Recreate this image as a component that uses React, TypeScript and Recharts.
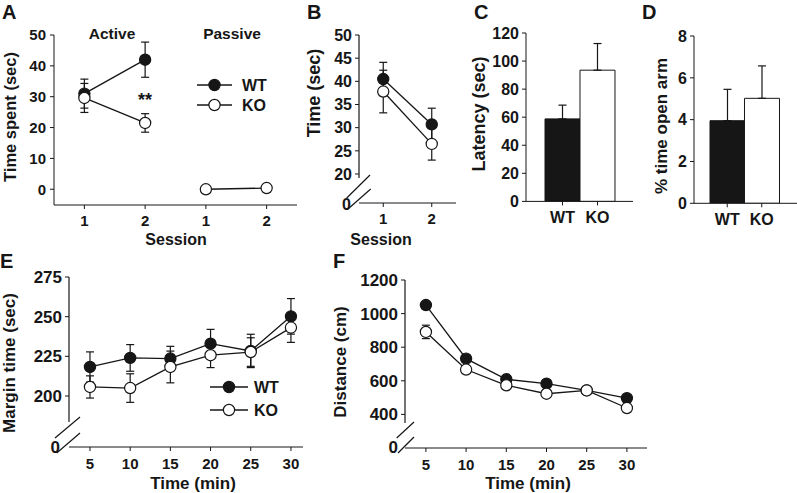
import React from 'react';
import { LineChart, Line, XAxis, YAxis, ErrorBar, BarChart, Bar, Cell } from 'recharts';

const FONT = '"Liberation Sans", Arial, Helvetica, sans-serif';
const INK = '#161616';

// A: time spent per session (active / passive)
const activeX = [1, 2];
const passiveX = [3, 4];
const wtActive = [31, 42];
const wtActiveErr = [4.7, 5.7];
const koActive = [29.6, 21.5];
const koActiveErr = [4.7, 3];
const koPassive = [0, 0.4];

// B: time per session
const bSession = [1, 2];
const bWt = [40.5, 30.7];
const bWtErr = [3.6, 3.5];
const bKo = [37.8, 26.5];
const bKoErr = [4.6, 3.5];

// C / D: bar groups
const groups = ['WT', 'KO'];
const barFill = [INK, '#ffffff'];
const latency = [58.8, 93.5];
const latencyErr = [9.8, 19];
const openArm = [3.95, 5.02];
const openArmErr = [1.5, 1.55];

// E / F: time course
const minutes = [5, 10, 15, 20, 25, 30];
const eWt = [218.3, 224, 223.6, 233, 228.4, 250.2];
const eWtErr = [9.5, 8.4, 7.7, 9, 10.5, 11.2];
const eKo = [205.7, 205, 218.3, 225.7, 227.7, 243.1];
const eKoErr = [7, 9, 10, 7.8, 9, 9.3];
const fWt = [1051, 732, 609, 583, 543, 497];
const fWtErr = [20, 20, 15, 15, 15, 15];
const fKo = [891, 667, 573, 523, 543, 438];
const fKoErr = [40, 20, 15, 15, 15, 15];

const rows = (xs: number[], ys: number[], es?: number[]) =>
  xs.map((x, i) => ({ x, y: ys[i], e: es ? es[i] : 0 }));

type Box = { x0: number; x1: number; y0: number; y1: number };

// place a chart so that its plot area lands on the given page box
function frame(b: Box, yw: number, xh: number, mr = 4) {
  const mt = 12;
  return {
    style: { position: 'absolute' as const, left: b.x0 - yw, top: b.y0 - mt },
    width: yw + (b.x1 - b.x0) + mr,
    height: mt + (b.y1 - b.y0) + xh,
    margin: { top: mt, right: mr, left: 0, bottom: 0 },
  };
}

const tickStyle = (size: number) => ({ fill: INK, fontSize: size, fontWeight: 700, fontFamily: FONT });

function Series({ data, fill, errW = 4 }: { data: any[]; fill: string; errW?: number }) {
  return (
    <Line
      data={data}
      dataKey="y"
      type="linear"
      stroke={INK}
      strokeWidth={1.3}
      dot={{ r: 5.6, fill, stroke: INK, strokeWidth: 1.2 }}
      activeDot={false}
      isAnimationActive={false}
    >
      <ErrorBar dataKey="e" width={errW} stroke={INK} strokeWidth={1.2} direction="y" />
    </Line>
  );
}

function LinePanel(props: {
  box: Box;
  yw: number;
  xh: number;
  xDomain: [number, number];
  yDomain: [number, number];
  xTicks: number[];
  yTicks: number[];
  xFont: number;
  yFont: number;
  xGap: number;
  yGap: number;
  broken?: boolean;
  xFmt?: (v: number) => string;
  children: React.ReactNode;
}) {
  const f = frame(props.box, props.yw, props.xh);
  return (
    <div style={f.style}>
      <LineChart width={f.width} height={f.height} margin={f.margin}>
        <XAxis
          type="number"
          dataKey="x"
          domain={props.xDomain}
          ticks={props.xTicks}
          interval={0}
          allowDataOverflow
          height={props.xh}
          stroke={INK}
          tickSize={4}
          tickMargin={props.xGap}
          tick={tickStyle(props.xFont)}
          tickFormatter={props.xFmt}
        />
        <YAxis
          type="number"
          domain={props.yDomain}
          ticks={props.yTicks}
          interval={0}
          allowDataOverflow
          width={props.yw}
          stroke={INK}
          axisLine={!props.broken}
          tickSize={4}
          tickMargin={props.yGap}
          tick={tickStyle(props.yFont)}
        />
        {props.children}
      </LineChart>
    </div>
  );
}

function BarPanel(props: {
  box: Box;
  values: number[];
  errs: number[];
  yDomain: [number, number];
  yTicks: number[];
  pad: { left: number; right: number };
  yFont: number;
  xFont: number;
  mr?: number;
}) {
  const f = frame(props.box, 40, 40, props.mr ?? 4);
  const data = groups.map((g, i) => ({ g, v: props.values[i], e: [0, props.errs[i]] }));
  return (
    <div style={f.style}>
      <BarChart width={f.width} height={f.height} margin={f.margin} data={data} barCategoryGap={0}>
        <XAxis
          dataKey="g"
          padding={props.pad}
          interval={0}
          height={40}
          stroke={INK}
          tickSize={4}
          tickMargin={6}
          tick={tickStyle(props.xFont)}
        />
        <YAxis
          domain={props.yDomain}
          ticks={props.yTicks}
          interval={0}
          allowDataOverflow
          width={40}
          stroke={INK}
          tickSize={4}
          tickMargin={3}
          tick={tickStyle(props.yFont)}
        />
        <Bar dataKey="v" stroke={INK} strokeWidth={1} isAnimationActive={false}>
          {data.map((d, i) => (
            <Cell key={d.g} fill={barFill[i]} />
          ))}
          <ErrorBar dataKey="e" width={4} stroke={INK} strokeWidth={1.2} direction="y" />
        </Bar>
      </BarChart>
    </div>
  );
}

function T({ x, y, size = 16, anchor = 'middle', children }: any) {
  return (
    <text x={x} y={y} fontSize={size} fontWeight={700} fontFamily={FONT} fill={INK} textAnchor={anchor}>
      {children}
    </text>
  );
}

function VT({ x, y, size = 16, children }: any) {
  return (
    <text
      transform={`translate(${x},${y}) rotate(-90)`}
      fontSize={size}
      fontWeight={700}
      fontFamily={FONT}
      fill={INK}
      textAnchor="middle"
    >
      {children}
    </text>
  );
}

function Key({ x, y, len, gap, fill, label }: any) {
  return (
    <g>
      <line x1={x} x2={x + len} y1={y} y2={y} stroke={INK} strokeWidth={1.3} />
      <circle cx={x + len / 2} cy={y} r={5.6} fill={fill} stroke={INK} strokeWidth={1.2} />
      <T x={x + len + gap} y={y + 5.7} size={16} anchor="start">
        {label}
      </T>
    </g>
  );
}

function Break({ ax, top, stop, s1, s2, zx, zy, size }: any) {
  return (
    <g stroke={INK} strokeWidth={1.2}>
      <line x1={ax} x2={ax} y1={top} y2={stop} />
      <line x1={s1[0]} y1={s1[1]} x2={s1[2]} y2={s1[3]} />
      <line x1={s2[0]} y1={s2[1]} x2={s2[2]} y2={s2[3]} />
      <g stroke="none">
        <T x={zx} y={zy} size={size} anchor="end">
          0
        </T>
      </g>
    </g>
  );
}

function Overlay() {
  return (
    <svg width={797} height={493} style={{ position: 'absolute', left: 0, top: 0, pointerEvents: 'none' }}>
      {/* panel letters */}
      <T x={2} y={19} size={20} anchor="start">A</T>
      <T x={307} y={19} size={20} anchor="start">B</T>
      <T x={474} y={19} size={20} anchor="start">C</T>
      <T x={642} y={19} size={20} anchor="start">D</T>
      <T x={0} y={268} size={20} anchor="start">E</T>
      <T x={333} y={268} size={20} anchor="start">F</T>

      {/* A */}
      <T x={112} y={39} size={15.5}>Active</T>
      <T x={232} y={39} size={15.5}>Passive</T>
      <T x={145} y={106} size={18}>**</T>
      <VT x={16} y={117} size={16.5}>Time spent (sec)</VT>
      <T x={176} y={245} size={16}>Session</T>
      <Key x={197} y={85} len={35} gap={10} fill={INK} label="WT" />
      <Key x={197} y={105} len={35} gap={10} fill="#ffffff" label="KO" />

      {/* B */}
      <VT x={320} y={93} size={18}>Time (sec)</VT>
      <T x={381} y={245} size={16}>Session</T>
      <Break ax={359} top={35} stop={178} s1={[346.7, 198, 370, 175]} s2={[348, 209, 370.7, 189]} zx={351} zy={210} size={16} />

      {/* C, D */}
      <VT x={485} y={114} size={18}>Latency (sec)</VT>
      <VT x={667} y={126} size={17}>% time open arm</VT>

      {/* E */}
      <VT x={15} y={363} size={17}>Margin time (sec)</VT>
      <T x={193} y={489} size={17}>Time (min)</T>
      <Key x={210} y={387} len={38} gap={6} fill={INK} label="WT" />
      <Key x={210} y={410} len={38} gap={6} fill="#ffffff" label="KO" />
      <Break ax={69} top={277} stop={422} s1={[55, 438, 80, 417]} s2={[56.7, 453, 80, 433]} zx={60} zy={453} size={17} />

      {/* F */}
      <VT x={346} y={362} size={17}>Distance (cm)</VT>
      <T x={528} y={489} size={17}>Time (min)</T>
      <Break ax={405} top={280} stop={423} s1={[396.7, 438, 414, 422]} s2={[398, 453, 414, 437]} zx={398} zy={453} size={17} />
    </svg>
  );
}

export default function App() {
  return (
    <div
      style={{
        position: 'absolute',
        left: 0,
        top: 0,
        width: 797,
        height: 493,
        overflow: 'hidden',
        background: '#fff',
      }}
    >
      {/* A */}
      <LinePanel
        box={{ x0: 54, x1: 297, y0: 35, y1: 205 }}
        yw={54}
        xh={40}
        xDomain={[0.5, 4.5]}
        yDomain={[-5.1, 50]}
        xTicks={[1, 2, 3, 4]}
        yTicks={[0, 10, 20, 30, 40, 50]}
        xFont={15}
        yFont={15}
        xGap={6}
        yGap={4}
        xFmt={(v) => String(v > 2 ? v - 2 : v)}
      >
        <Series data={rows(activeX, wtActive, wtActiveErr)} fill={INK} />
        <Series data={rows(activeX, koActive, koActiveErr)} fill="#ffffff" />
        <Series data={rows(passiveX, koPassive)} fill="#ffffff" />
      </LinePanel>

      {/* B */}
      <LinePanel
        box={{ x0: 359, x1: 456, y0: 35, y1: 203 }}
        yw={40}
        xh={40}
        xDomain={[0.5, 2.5]}
        yDomain={[13.74, 50]}
        xTicks={bSession}
        yTicks={[20, 25, 30, 35, 40, 45, 50]}
        xFont={15}
        yFont={16}
        xGap={6}
        yGap={3}
        broken
      >
        <Series data={rows(bSession, bWt, bWtErr)} fill={INK} />
        <Series data={rows(bSession, bKo, bKoErr)} fill="#ffffff" />
      </LinePanel>

      {/* C */}
      <BarPanel
        box={{ x0: 526, x1: 633, y0: 33.3, y1: 201.7 }}
        values={latency}
        errs={latencyErr}
        yDomain={[0, 120]}
        yTicks={[0, 20, 40, 60, 80, 100, 120]}
        pad={{ left: 19, right: 18 }}
        yFont={16}
        xFont={16}
      />

      {/* D */}
      <BarPanel
        box={{ x0: 694, x1: 797, y0: 36, y1: 203.3 }}
        values={openArm}
        errs={openArmErr}
        yDomain={[0, 8]}
        yTicks={[0, 2, 4, 6, 8]}
        pad={{ left: 16, right: 18 }}
        yFont={16}
        xFont={16}
        mr={0}
      />

      {/* E */}
      <LinePanel
        box={{ x0: 69, x1: 303, y0: 277, y1: 447 }}
        yw={50}
        xh={40}
        xDomain={[2.39, 31.5]}
        yDomain={[167.86, 275]}
        xTicks={minutes}
        yTicks={[200, 225, 250, 275]}
        xFont={15}
        yFont={17}
        xGap={7}
        yGap={3}
        broken
      >
        <Series data={rows(minutes, eWt, eWtErr)} fill={INK} />
        <Series data={rows(minutes, eKo, eKoErr)} fill="#ffffff" />
      </LinePanel>

      {/* F */}
      <LinePanel
        box={{ x0: 405, x1: 647, y0: 280, y1: 448 }}
        yw={50}
        xh={40}
        xDomain={[2.4, 32.5]}
        yDomain={[200, 1200]}
        xTicks={minutes}
        yTicks={[400, 600, 800, 1000, 1200]}
        xFont={15}
        yFont={17}
        xGap={7}
        yGap={3}
        broken
      >
        <Series data={rows(minutes, fWt, fWtErr)} fill={INK} />
        <Series data={rows(minutes, fKo, fKoErr)} fill="#ffffff" />
      </LinePanel>

      <Overlay />
    </div>
  );
}
